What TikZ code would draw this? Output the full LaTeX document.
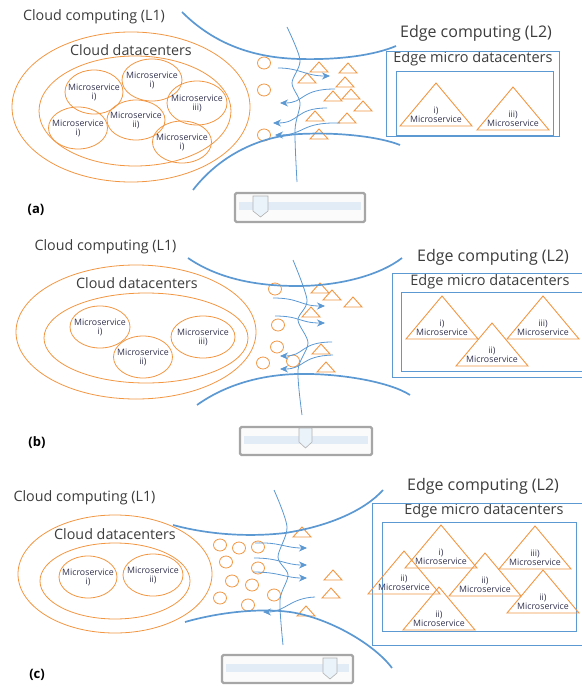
\documentclass[tikz,border=0pt]{standalone}
\usepackage{fontspec}
\setmainfont{Open Sans}
\usetikzlibrary{arrows.meta}
\definecolor{arancio}{RGB}{242,150,66}
\definecolor{blu}{RGB}{92,152,210}
\definecolor{grigio}{RGB}{60,60,60}
\definecolor{testoms}{RGB}{50,50,80}
\begin{document}
\begin{tikzpicture}[x=1pt,y=-1pt,>={Stealth[length=8pt,width=7pt]},
  titolo/.style={text=grigio,font=\fontsize{14.3}{16}\selectfont,inner sep=0pt},
  titoloedge/.style={text=grigio,font=\fontsize{16}{18}\selectfont,inner sep=0pt},
  titolomicro/.style={text=grigio,font=\fontsize{14.5}{16}\selectfont,inner sep=0pt},
  mstxt/.style={text=testoms,font=\fontsize{8.8}{9}\selectfont,align=center,inner sep=0pt},
  etichetta/.style={font=\fontsize{13}{14}\selectfont\bfseries,inner sep=0pt},
  ell/.style={draw=arancio,line width=0.8pt},
  tri/.style={draw=arancio,line width=0.9pt,line join=miter},
  rett/.style={draw=blu,line width=0.8pt},
  imbuto/.style={draw=blu,line width=1.7pt},
  flusso/.style={draw=blu,line width=0.8pt},
  cursore/.style={draw=gray!70,line width=2.4pt,fill=gray!3,rounded corners=1.5pt},
  binario/.style={fill=blu!18},
  pomello/.style={draw=gray!60,fill=blu!12,line width=0.6pt}]
\useasboundingbox (0,0) rectangle (581,687);

% ================= Pannello (a) =================
% Titoli cloud
\draw (94,17)node[titolo](node cloud a){Cloud computing (L1)}
      (131,50)node[titolo](node dc a){Cloud datacenters};
% Ellissi datacenter
\draw[ell] (131,107) ellipse (119 and 75);
\draw[ell] (135,111) ellipse (96 and 55);
% Microservizi cloud
\foreach \n/\x/\y/\rx/\ry/\lab in {a1/94/92/29/22/i), a2/152/80/30/21/i), a3/197/103/30/22/iii),
    a4/136/120/29/20/ii), a5/78/128/29.5/21/i), a6/182/142/29.5/21/i)}{
  \node[mstxt](node ms \n) at (\x,\y){Microservice\\\lab};
  \draw[ell] (node ms \n.center) ellipse [x radius=\rx, y radius=\ry];
}
% Cerchietti e triangolini
\foreach \x/\y in {264/63, 264/90, 264/135}
  \draw[ell] (\x,\y) ellipse (6.5 and 6);
\foreach \x/\y in {319/67, 348/68, 307/78, 345/82, 333/96, 351/94, 363/106, 315/116, 347/118, 319/134}
  \draw[tri] ({\x-9},{\y+5}) -- (\x,{\y-5}) -- ({\x+9},{\y+5}) -- cycle;
% Imbuto
\draw[imbuto] (182,12) .. controls (215,45) and (255,58) .. (300,59) .. controls (340,60) and (375,55) .. (396,46);
\draw[imbuto] (193,190) .. controls (220,155) and (260,136) .. (300,134) .. controls (340,132) and (380,137) .. (400,145);
\draw[flusso] plot[smooth] coordinates {(287,27) (300,60) (292,83) (300,103) (295,130) (297,182)};
% Frecce
\draw[flusso,->] (278,68) .. controls (300,68) and (305,76) .. (330,76);
\draw[flusso,->] (335,89) .. controls (300,89) and (305,103) .. (280,103);
\draw[flusso,->] (327,108) .. controls (295,108) and (300,123) .. (273,123);
\draw[flusso,->] (340,123) .. controls (300,122) and (305,135) .. (275,135);
% Edge
\draw (476,33)node[titoloedge](node edge a){Edge computing (L2)}
      (473,59)node[titolomicro](node edc a){Edge micro datacenters};
\draw[rett] (386,51) rectangle (559,136);
\draw[rett] (396,71) rectangle (553,135);
\foreach \n/\x/\y/\lab in {a1/436/83/i), a2/513/87/iii)}{
  \draw[tri] (\x,\y) -- ++(36,43) -- ++(-72,0) -- cycle;
  \node[mstxt](node edge ms \n) at (\x,{\y+32}){\lab\\Microservice};
}
% Etichetta e cursore
\node[etichetta](node lab a) at (36,210){(a)};
\draw[cursore] (235,193) rectangle (365,222);
\fill[binario] (239,202) rectangle (361,210);
\draw[pomello] (253,196) -- (268,196) -- (268,211) -- (260.5,217) -- (253,211) -- cycle;

% ================= Pannello (b) =================
% Titoli cloud
\draw (105.5,247)node[titolo](node cloud b){Cloud computing (L1)}
      (137,283)node[titolo](node dc b){Cloud datacenters};
% Ellissi datacenter
\draw[ell] (136,332) ellipse (120 and 67);
\draw[ell] (146,338) ellipse (102 and 45);
% Microservizi cloud
\foreach \n/\x/\y/\rx/\lab in {b1/100/327/30/i), b2/143/357/29.5/ii), b3/203/337/32/iii)}{
  \node[mstxt](node ms \n) at (\x,\y){Microservice\\\lab};
  \draw[ell] (node ms \n.center) ellipse [x radius=\rx, y radius=21];
}
% Cerchietti e triangolini
\foreach \x/\y in {275/289, 278/325, 277/347, 263/363, 293/361}
  \draw[ell] (\x,\y) ellipse (6.5 and 6);
\foreach \x/\y in {320/288, 332/295, 353/302, 311/312, 321/349, 326/367}
  \draw[tri] ({\x-9},{\y+5}) -- (\x,{\y-5}) -- ({\x+9},{\y+5}) -- cycle;
% Imbuto
\draw[imbuto] (188,258) .. controls (220,280) and (260,286) .. (297,286) .. controls (340,286) and (380,275) .. (402,258);
\draw[imbuto] (197,405) .. controls (225,385) and (260,375) .. (297,374) .. controls (340,373) and (390,382) .. (410,395);
\draw[flusso] plot[smooth] coordinates {(293,260) (307,300) (298,320) (308,343) (298,370) (302,415)};
% Frecce
\draw[flusso,->] (273,298) .. controls (300,298) and (300,306) .. (325,306);
\draw[flusso,->] (275,316) .. controls (300,316) and (300,323) .. (325,323);
\draw[flusso,->] (332,342) .. controls (300,342) and (305,356) .. (280,356);
\draw[flusso,->] (333,355) .. controls (300,356) and (305,369) .. (280,369);
% Edge
\draw (493,257)node[titoloedge](node edge b){Edge computing (L2)}
      (490,282)node[titolomicro](node edc b){Edge micro datacenters};
\draw[rett] (392,273) rectangle (585,377);
\draw[rett] (401,292) rectangle (585,371);
\foreach \n/\x/\y/\lab in {b1/442/296/i), b2/492/323/ii), b3/543/296/iii)}{
  \draw[tri] (\x,\y) -- ++(36,43) -- ++(-72,0) -- cycle;
  \node[mstxt](node edge ms \n) at (\x,{\y+32}){\lab\\Microservice};
}
% Etichetta e cursore
\node[etichetta](node lab b) at (37,443){(b)};
\draw[cursore] (240,427) rectangle (372,455);
\fill[binario] (244,436) rectangle (368,444);
\draw[pomello] (299,428) -- (312,428) -- (312,442) -- (305.5,448) -- (299,442) -- cycle;

% ================= Pannello (c) =================
% Titoli cloud
\draw (84.5,498)node[titolo](node cloud c){Cloud computing (L1)}
      (115,534)node[titolo](node dc c){Cloud datacenters};
% Ellissi datacenter
\draw[ell] (115,574) ellipse (97 and 59);
\draw[ell] (115,581) ellipse (75 and 38);
% Microservizi cloud
\foreach \n/\x/\y/\rx/\lab in {c1/88/577/29/i), c2/153/575/30/ii)}{
  \node[mstxt](node ms \n) at (\x,\y){Microservice\\\lab};
  \draw[ell] (node ms \n.center) ellipse [x radius=\rx, y radius=21];
}
% Cerchietti e triangolini
\foreach \x/\y in {220/545, 239/548, 258/547, 226/562, 258/568, 232/581, 252/585, 220/598, 248/605, 274/595}
  \draw[ell] (\x,\y) ellipse (6.5 and 6);
\foreach \x/\y in {302/532, 333/575, 331/593, 306/611}
  \draw[tri] ({\x-9},{\y+5}) -- (\x,{\y-5}) -- ({\x+9},{\y+5}) -- cycle;
% Imbuto
\draw[imbuto] (173,525) .. controls (210,535) and (250,537) .. (285,533) .. controls (330,526) and (365,510) .. (383,490);
\draw[imbuto] (185,622) .. controls (220,612) and (260,608) .. (290,612) .. controls (330,618) and (375,645) .. (392,668);
\draw[flusso] plot[smooth] coordinates {(274,490) (287,527) (278,557) (288,575) (280,600) (283,645)};
% Frecce
\draw[flusso,->] (255,543) .. controls (280,542) and (285,548) .. (307,548);
\draw[flusso,->] (254,558) .. controls (280,558) and (285,565) .. (307,565);
\draw[flusso,->] (253,572) .. controls (280,572) and (285,578) .. (307,578);
\draw[flusso,->] (315,597) .. controls (290,598) and (285,612) .. (263,612);
% Edge
\draw (483,486)node[titoloedge](node edge c){Edge computing (L2)}
      (484,511)node[titolomicro](node edc c){Edge micro datacenters};
\draw[rett] (372,503) rectangle (585,645);
\draw[rett] (382,522) rectangle (576,631);
\foreach \n/\x/\y/\lab in {c1/441/525/i), c2/404/551/ii), c3/485/553/ii), c4/535/526/iii), c5/543/570/ii), c6/439/587/ii)}{
  \draw[tri] (\x,\y) -- ++(36,43) -- ++(-72,0) -- cycle;
  \node[mstxt](node edge ms \n) at (\x,{\y+32}){\lab\\Microservice};
}
% Etichetta e cursore
\node[etichetta](node lab c) at (37,675){(c)};
\draw[cursore] (222,655) rectangle (353,683);
\fill[binario] (226,664) rectangle (349,672);
\draw[pomello] (323,658) -- (337,658) -- (337,673) -- (330,679) -- (323,673) -- cycle;
\end{tikzpicture}
\end{document}
